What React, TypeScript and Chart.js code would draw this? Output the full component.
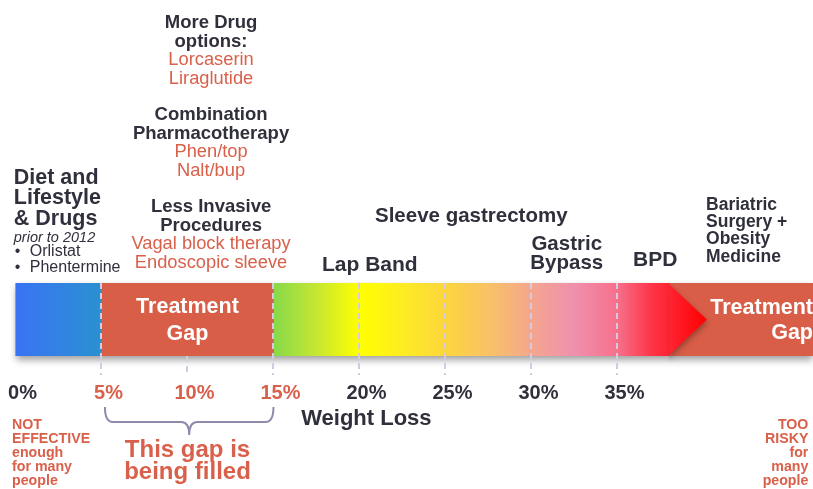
import React, { useEffect, useRef } from 'react';
import { Chart, registerables } from 'chart.js';

Chart.register(...registerables);

const FONT = '"Liberation Sans", Arial, Helvetica, sans-serif';
const DARK = '#2f303c';
const RED = '#d9604a';
const GAP = '#d85e48';
const GUIDE = '#d4cae4';
const BRACE = '#8e8aac';

// Weight-loss axis, in percent
const axisMin = 0;
const axisMax = 46.37;
const tickValues = [0, 5, 10, 15, 20, 25, 30, 35];
const tickLabels = ['0%', '5%', '10%', '15%', '20%', '25%', '30%', '35%'];
const highlightedTicks = [5, 10, 15];
const guideValues = [5, 10, 15, 20, 25, 30, 35];

// Segments of the treatment bar (percent weight loss)
const segmentLabels = ['Diet and Lifestyle', 'Treatment Gap', 'Surgery', 'Treatment Gap'];
const segmentFrom = [0, 5, 15, 38];
const segmentTo = [5, 15, 38, 46.37];
const arrowTip = 40.2;

// Colour ramps along the bar
const blueStops: [number, string][] = [[0, '#3a73f5'], [5, '#2a91d0']];
const spectrumStops: [number, string][] = [
  [15, '#86d94a'], [17.5, '#c6e632'], [20, '#ffff00'], [22.5, '#fdec22'],
  [25, '#fcd63c'], [27.5, '#f8c266'], [30, '#f4a68e'], [32.5, '#ef90ae'],
  [35, '#f7708a'], [37, '#fe3448'], [40.2, '#ff0000'],
];

// Brace under the low-end gap
const braceFrom = 5.2;
const braceTo = 15;

// Labels
const dietTitle = ['Diet and', 'Lifestyle', '& Drugs'];
const dietNote = 'prior to 2012';
const dietDrugs = ['Orlistat', 'Phentermine'];
const drugTitle = ['More Drug', 'options:'];
const drugNames = ['Lorcaserin', 'Liraglutide'];
const comboTitle = ['Combination', 'Pharmacotherapy'];
const comboNames = ['Phen/top', 'Nalt/bup'];
const procTitle = ['Less Invasive', 'Procedures'];
const procNames = ['Vagal block therapy', 'Endoscopic sleeve'];
const sleeveTitle = 'Sleeve gastrectomy';
const lapTitle = 'Lap Band';
const bypassTitle = ['Gastric', 'Bypass'];
const bpdTitle = 'BPD';
const bariatricTitle = ['Bariatric', 'Surgery +', 'Obesity', 'Medicine'];
const gapText = ['Treatment', 'Gap'];
const axisTitle = 'Weight Loss';
const gapNote = ['This gap is', 'being filled'];
const lowNote = ['NOT', 'EFFECTIVE', 'enough', 'for many', 'people'];
const highNote = ['TOO', 'RISKY', 'for', 'many', 'people'];

// Where each label sits along the axis (percent)
const dietAt = -0.1;
const drugsAt = 11.37;
const sleeveAt = 26.5;
const lapAt = 20.6;
const bypassAt = 32.05;
const bpdAt = 37.2;
const bariatricAt = 40.15;
const gapTextAt = 10;
const axisTitleAt = 20.4;
const gapNoteAt = 10;
const lowNoteAt = -0.2;
const highNoteAt = 46.1;

const font = (weight: string, size: number, style = '') => `${style} ${weight} ${size}px ${FONT}`;

function gradientFor(ctx: CanvasRenderingContext2D, x: any, stops: [number, string][]) {
  const a = stops[0][0];
  const b = stops[stops.length - 1][0];
  const g = ctx.createLinearGradient(x.getPixelForValue(a), 0, x.getPixelForValue(b), 0);
  stops.forEach(([v, c]) => g.addColorStop((v - a) / (b - a), c));
  return g;
}

function textLines(
  ctx: CanvasRenderingContext2D,
  texts: string[],
  x: number,
  y0: number,
  step: number,
  f: string,
  color: string,
  align: CanvasTextAlign,
) {
  ctx.font = f;
  ctx.fillStyle = color;
  ctx.textAlign = align;
  ctx.textBaseline = 'middle';
  texts.forEach((t, i) => ctx.fillText(t, x, y0 + i * step));
}

const overlay = {
  id: 'overlay',
  beforeDatasetsDraw(chart: any) {
    const { ctx, chartArea: a } = chart;
    ctx.save();
    ctx.shadowColor = 'rgba(0,0,0,0.38)';
    ctx.shadowBlur = 7;
    ctx.shadowOffsetY = 4;
    ctx.fillStyle = '#999';
    ctx.fillRect(a.left, a.top, a.right - a.left, a.bottom - a.top);
    ctx.restore();
  },
  afterDatasetsDraw(chart: any) {
    const { ctx, chartArea: a, scales } = chart;
    const x = scales.x;
    const px = (v: number) => x.getPixelForValue(v);

    // arrow head of the spectrum segment
    const base = px(segmentTo[2]);
    const tip = px(arrowTip);
    const mid = (a.top + a.bottom) / 2;
    ctx.save();
    ctx.beginPath();
    ctx.rect(base - 0.5, 0, a.right - base, chart.height);
    ctx.clip();
    ctx.shadowColor = 'rgba(0,0,0,0.35)';
    ctx.shadowBlur = 6;
    ctx.shadowOffsetY = 3;
    ctx.beginPath();
    ctx.moveTo(base - 1, a.top);
    ctx.lineTo(tip, mid);
    ctx.lineTo(base - 1, a.bottom);
    ctx.closePath();
    ctx.fillStyle = gradientFor(ctx, x, spectrumStops);
    ctx.fill();
    ctx.restore();

    // dashed guides
    ctx.save();
    ctx.strokeStyle = GUIDE;
    ctx.lineWidth = 2;
    ctx.setLineDash([6, 4]);
    guideValues.forEach((v) => {
      const gx = Math.round(px(v));
      const hidden = v > segmentFrom[1] && v < segmentTo[1];
      ctx.beginPath();
      ctx.moveTo(gx, hidden ? a.bottom : a.top);
      ctx.lineTo(gx, a.bottom + 19);
      ctx.stroke();
    });
    ctx.restore();

    // brace
    const bl = px(braceFrom);
    const br = px(braceTo);
    const bm = (bl + br) / 2;
    const yTop = 407;
    const yMid = 422;
    const yTip = 435;
    const r = 8;
    ctx.save();
    ctx.strokeStyle = BRACE;
    ctx.lineWidth = 2;
    ctx.beginPath();
    ctx.moveTo(bl, yTop);
    ctx.quadraticCurveTo(bl, yMid, bl + r, yMid);
    ctx.lineTo(bm - r, yMid);
    ctx.quadraticCurveTo(bm, yMid, bm, yTip);
    ctx.quadraticCurveTo(bm, yMid, bm + r, yMid);
    ctx.lineTo(br - r, yMid);
    ctx.quadraticCurveTo(br, yMid, br, yTop);
    ctx.stroke();
    ctx.restore();
  },
  afterDraw(chart: any) {
    const { ctx, scales } = chart;
    const px = (v: number) => scales.x.getPixelForValue(v);
    ctx.save();

    // low end
    textLines(ctx, dietTitle, px(dietAt), 178, 20.5, font('bold', 21.5), DARK, 'left');
    textLines(ctx, [dietNote], px(dietAt), 238, 15, font('normal', 14.5, 'italic'), DARK, 'left');
    textLines(ctx, dietDrugs.map(() => '•'), px(dietAt) + 1, 252, 16, font('normal', 16), DARK, 'left');
    textLines(ctx, dietDrugs, px(dietAt) + 16, 252, 16, font('normal', 16), DARK, 'left');

    // middle column of new options
    const mx = px(drugsAt);
    textLines(ctx, drugTitle, mx, 23, 19, font('bold', 18.5), DARK, 'center');
    textLines(ctx, drugNames, mx, 60, 18.5, font('normal', 18.3), RED, 'center');
    textLines(ctx, comboTitle, mx, 115, 18.5, font('bold', 18.5), DARK, 'center');
    textLines(ctx, comboNames, mx, 152, 18.5, font('normal', 18.3), RED, 'center');
    textLines(ctx, procTitle, mx, 207, 18.5, font('bold', 18.5), DARK, 'center');
    textLines(ctx, procNames, mx, 244, 18.5, font('normal', 18.3), RED, 'center');

    // surgical options
    textLines(ctx, [sleeveTitle], px(sleeveAt), 216, 0, font('bold', 20.5), DARK, 'center');
    textLines(ctx, [lapTitle], px(lapAt), 265, 0, font('bold', 21), DARK, 'center');
    textLines(ctx, bypassTitle, px(bypassAt), 244, 19, font('bold', 20.5), DARK, 'center');
    textLines(ctx, [bpdTitle], px(bpdAt), 260, 0, font('bold', 21), DARK, 'center');
    textLines(ctx, bariatricTitle, px(bariatricAt), 205, 17.3, font('bold', 17.5), DARK, 'left');

    // inside the bar
    textLines(ctx, gapText, px(gapTextAt), 307, 27, font('bold', 21.5), '#ffffff', 'center');
    textLines(ctx, gapText, px(axisMax), 308, 25, font('bold', 21.5), '#ffffff', 'right');

    // below the axis
    textLines(ctx, [axisTitle], px(axisTitleAt), 419, 0, font('bold', 22), DARK, 'center');
    textLines(ctx, gapNote, px(gapNoteAt), 450, 22.5, font('bold', 24), RED, 'center');
    textLines(ctx, lowNote, px(lowNoteAt), 425, 14, font('bold', 14.2), RED, 'left');
    textLines(ctx, highNote, px(highNoteAt), 425, 14, font('bold', 14.2), RED, 'right');

    ctx.restore();
  },
};

export default function App() {
  const canvasRef = useRef<HTMLCanvasElement | null>(null);

  useEffect(() => {
    const canvas = canvasRef.current;
    if (!canvas) return;

    const segmentFill = (c: any, i: number) => {
      const chart = c.chart;
      const x = chart.scales?.x;
      if (!x || !chart.chartArea) return GAP;
      if (i === 0) return gradientFor(chart.ctx, x, blueStops);
      if (i === 2) return gradientFor(chart.ctx, x, spectrumStops);
      return GAP;
    };

    const chart = new Chart(canvas, {
      type: 'bar',
      data: {
        labels: ['Weight loss'],
        datasets: segmentLabels.map((name, i) => ({
          label: name,
          data: [[segmentFrom[i], segmentTo[i]]] as any,
          backgroundColor: (c: any) => segmentFill(c, i),
          borderWidth: 0,
          grouped: false,
          barPercentage: 1,
          categoryPercentage: 1,
        })),
      },
      options: {
        indexAxis: 'y',
        responsive: false,
        animation: false,
        layout: { padding: { left: 15.5, right: 0, top: 283, bottom: 60 } },
        plugins: {
          legend: { display: false },
          tooltip: { enabled: false },
          title: { display: false },
        },
        scales: {
          y: { type: 'category', display: false },
          x: {
            type: 'linear',
            min: axisMin,
            max: axisMax,
            afterBuildTicks: (axis: any) => {
              axis.ticks = tickValues.map((v) => ({ value: v }));
            },
            afterFit: (axis: any) => {
              axis.paddingLeft = 0;
              axis.paddingRight = 0;
            },
            grid: { display: false, drawTicks: false },
            border: { display: false },
            ticks: {
              padding: 25,
              labelOffset: 7,
              autoSkip: false,
              maxRotation: 0,
              font: { family: FONT, size: 20, weight: 'bold' },
              color: (c: any) => (highlightedTicks.includes(c.tick?.value) ? RED : DARK),
              callback: (_v: any, index: number) => tickLabels[index] ?? '',
            },
          },
        },
      } as any,
      plugins: [overlay],
    });

    return () => chart.destroy();
  }, []);

  return (
    <div style={{ position: 'fixed', left: 0, top: 0, width: 813, height: 489, background: '#ffffff' }}>
      <canvas ref={canvasRef} width={813} height={489} style={{ display: 'block' }} />
    </div>
  );
}
